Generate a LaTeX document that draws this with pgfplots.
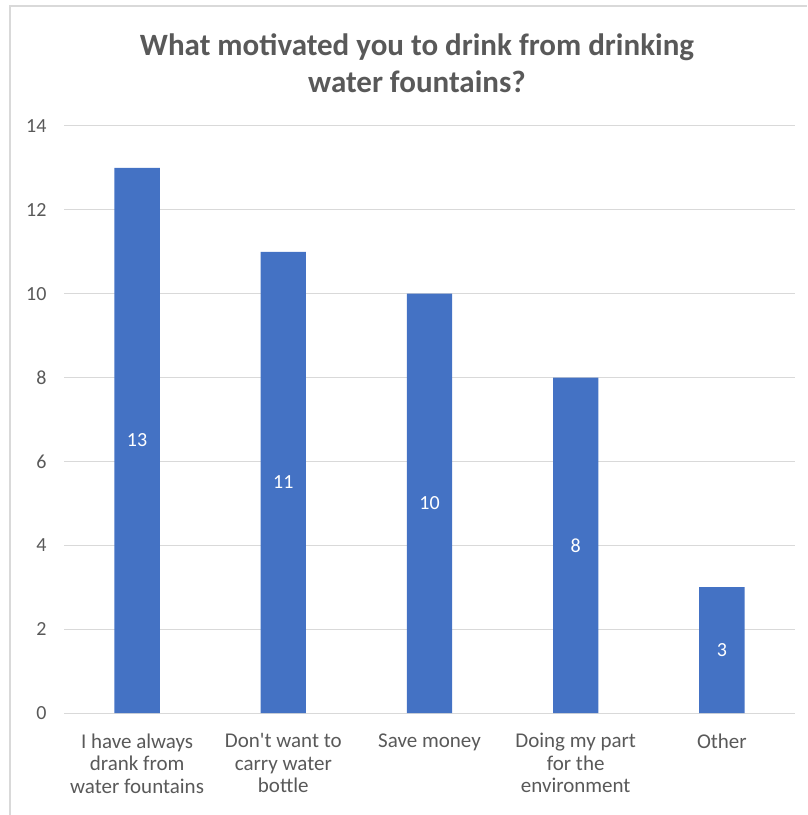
\documentclass[border=0pt]{standalone}
\usepackage{pgfplots}
\pgfplotsset{compat=1.18}
\usepackage{fontspec}
\setmainfont{Carlito}
\definecolor{barblue}{HTML}{4472C4}
\definecolor{txt}{HTML}{595959}
\definecolor{gridc}{HTML}{D9D9D9}
\begin{document}
\begin{tikzpicture}[x=1pt,y=1pt]
\path[use as bounding box] (0,0) rectangle (807,815);
\draw[gridc, line width=1.2pt] (10,0) -- (10,809) -- (807,809);
\node[align=center, text=txt, font=\bfseries\fontsize{31}{37}\selectfont] at (417,751.5) {What motivated you to drink from drinking\\water fountains?};
\begin{axis}[
  at={(64pt,102pt)}, anchor=south west,
  scale only axis, width=731pt, height=587pt,
  xmin=-0.5, xmax=4.5, ymin=0, ymax=14,
  ytick={0,2,...,14}, xtick={0,...,4},
  xticklabels={{I have always\\drank from\\water fountains},{Don\textquotesingle t want to\\carry water\\bottle},{Save money},{Doing my part\\for the\\environment},{Other}},
  xticklabel style={align=center, text=txt, font=\fontsize{21}{22.5}\selectfont, text depth=0pt, yshift=-17pt},
  yticklabel style={text=txt, font=\fontsize{20}{20}\selectfont, xshift=-14pt},
  /pgf/number format/assume math mode=true,
  ymajorgrids, grid style={gridc, line width=1pt},
  axis x line*=bottom, axis y line*=left,
  y axis line style={draw=none},
  x axis line style={gridc, line width=1pt},
  major tick length=0pt,
  ybar, bar width=0.31,
  visualization depends on={rawy \as \rawy},
  nodes near coords,
  every node near coord/.append style={text=white, font=\fontsize{20}{20}\selectfont, anchor=center, shift={(axis direction cs:0,-\rawy/2)}},
]
\addplot[fill=barblue, draw=none] coordinates {(0,13) (1,11) (2,10) (3,8) (4,3)};
\end{axis}
\end{tikzpicture}
\end{document}
